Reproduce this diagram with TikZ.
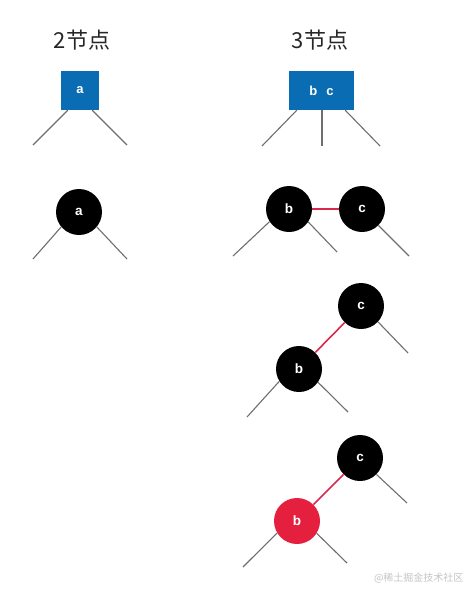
\documentclass[tikz,border=0pt]{standalone}
\usepackage{fontspec}
\setmainfont{Liberation Sans}
\newfontfamily\cjk{Noto Sans CJK SC}
\definecolor{boxblue}{HTML}{0A6DB3}
\definecolor{rbred}{HTML}{E5203F}
\definecolor{linkred}{HTML}{D9284C}
\definecolor{edgegray}{HTML}{6E6E6E}
\definecolor{wmgray}{HTML}{C4C4C4}
\tikzset{
  title/.style={font=\cjk\fontsize{22}{25}\selectfont, text=black!85},
  bbox/.style={fill=boxblue, draw=none, minimum height=39pt, inner sep=0pt, text=white, font=\bfseries\fontsize{13}{15}\selectfont},
  rbnode/.style={circle, fill=black, draw=none, minimum size=46pt, inner sep=0pt, text=white, font=\bfseries\fontsize{13.5}{15}\selectfont},
  rednode/.style={rbnode, fill=rbred},
  edge/.style={draw=edgegray, line width=1.1pt},
  redlink/.style={draw=linkred, line width=1.6pt},
}
\begin{document}
\begin{tikzpicture}[x=1pt,y=-1pt]
\useasboundingbox (0,0) rectangle (472,589);
% titles
\node[title] (t2) at (82,40) {2节点};
\node[title] (t3) at (320,40) {3节点};
% 2-node box
\node[bbox, minimum width=38pt] (ba) at (80,90.5) {a};
\coordinate (ba1) at (33,145);
\coordinate (ba2) at (127,145);
\draw[edge] ([xshift=7pt]ba.south west) -- (ba1);
\draw[edge] ([xshift=-7pt]ba.south east) -- (ba2);
% 3-node box
\node[bbox, minimum width=65pt] (bbc) at (321.5,90.5) {b\hspace{9pt}c};
\coordinate (bc1) at (262,146);
\coordinate (bc2) at (322,146);
\coordinate (bc3) at (380,146);
\draw[edge] ([xshift=8pt]bbc.south west) -- (bc1);
\draw[edge] (bbc.south -| bc2) -- (bc2);
\draw[edge] ([xshift=-9pt]bbc.south east) -- (bc3);
% circle a
\node[rbnode] (ca) at (79,212) {a};
\coordinate (ca1) at (33,259);
\coordinate (ca2) at (127,259);
\draw[edge] (ca.220) -- (ca1);
\draw[edge] (ca.320) -- (ca2);
% row 2 right
\node[rbnode] (r2b) at (289,209) {b};
\node[rbnode] (r2c) at (362,209) {c};
\draw[redlink] (r2b) -- (r2c);
\coordinate (r2b1) at (233,256);
\coordinate (r2b2) at (337,252);
\coordinate (r2c1) at (409,256);
\draw[edge] (r2b.213) -- (r2b1);
\draw[edge] (r2b.326) -- (r2b2);
\draw[edge] (r2c.315) -- (r2c1);
% row 3
\node[rbnode] (r3c) at (361,306) {c};
\node[rbnode] (r3b) at (299,369) {b};
\draw[redlink] (r3b) -- (r3c);
\coordinate (r3c1) at (408,353);
\coordinate (r3b1) at (247,417);
\coordinate (r3b2) at (348,412);
\draw[edge] (r3c.317) -- (r3c1);
\draw[edge] (r3b.212) -- (r3b1);
\draw[edge] (r3b.325) -- (r3b2);
% row 4
\node[rbnode] (r4c) at (360,458) {c};
\node[rednode] (r4b) at (297,521) {b};
\draw[redlink] (r4b) -- (r4c);
\coordinate (r4c1) at (407,503);
\coordinate (r4b1) at (243,567);
\coordinate (r4b2) at (347,563);
\draw[edge] (r4c.315) -- (r4c1);
\draw[edge] (r4b.211) -- (r4b1);
\draw[edge] (r4b.328) -- (r4b2);
% watermark
\node[font=\cjk\fontsize{10}{12}\selectfont, text=wmgray, anchor=east] (wm) at (467,578) {@稀土掘金技术社区};
\end{tikzpicture}
\end{document}
